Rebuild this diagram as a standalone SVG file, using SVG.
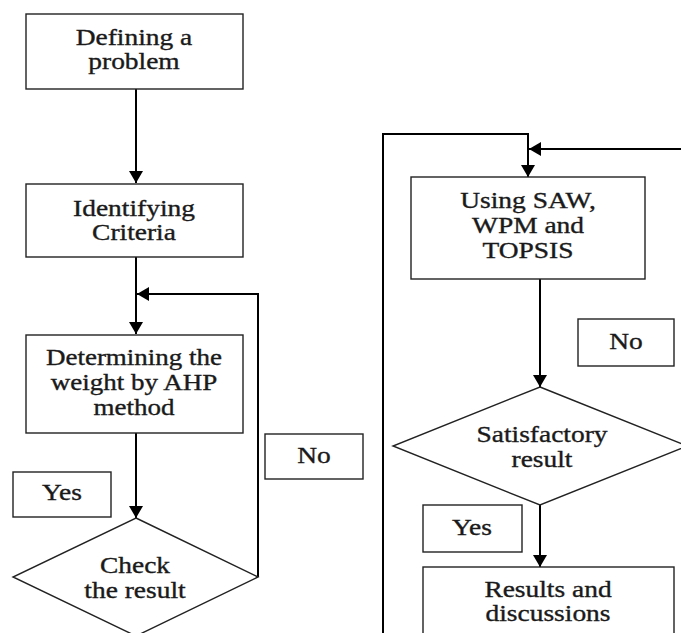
<svg xmlns="http://www.w3.org/2000/svg" width="681" height="633" viewBox="0 0 681 633">
<defs>
<marker id="ah" markerUnits="userSpaceOnUse" markerWidth="14" markerHeight="16" refX="12" refY="7" orient="auto">
<path d="M0,0 L12,7 L0,14 Z" fill="#000"/>
</marker>
<style>
.box{fill:#fff;stroke:#222;stroke-width:1.4}
.ln{fill:none;stroke:#000;stroke-width:2}
.t{font-family:"Liberation Serif","Times New Roman",serif;font-size:22.5px;fill:#1a1a1a;stroke:#1a1a1a;stroke-width:0.35;text-anchor:middle}
</style>
</defs>
<rect width="681" height="633" fill="#fff"/>
<g id="connectors">
<path class="ln" d="M136,89 V183" marker-end="url(#ah)"/>
<path class="ln" d="M136,257 V334" marker-end="url(#ah)"/>
<path class="ln" d="M258,577 V294 H137" marker-end="url(#ah)"/>
<path class="ln" d="M136,433 V518" marker-end="url(#ah)"/>
<path class="ln" d="M383,633 V134 H528 V177" marker-end="url(#ah)"/>
<path class="ln" d="M681,149 H529" marker-end="url(#ah)"/>
<path class="ln" d="M540,279 V387" marker-end="url(#ah)"/>
<path class="ln" d="M540,505 V567" marker-end="url(#ah)"/>
</g>
<g id="n1">
<rect class="box" x="26" y="14" width="217" height="75"/>
<text class="t" transform="translate(134,45) scale(1.22,1)">Defining a</text>
<text class="t" transform="translate(134,69) scale(1.22,1)">problem</text>
</g>
<g id="n2">
<rect class="box" x="26" y="184" width="217" height="73"/>
<text class="t" transform="translate(134,216) scale(1.22,1)">Identifying</text>
<text class="t" transform="translate(134,240) scale(1.22,1)">Criteria</text>
</g>
<g id="n3">
<rect class="box" x="26" y="335" width="217" height="98"/>
<text class="t" transform="translate(134,365) scale(1.2,1)">Determining the</text>
<text class="t" transform="translate(134,390) scale(1.2,1)">weight by AHP</text>
<text class="t" transform="translate(134,415) scale(1.2,1)">method</text>
</g>
<g id="yes1">
<rect class="box" x="13" y="472" width="98" height="45"/>
<text class="t" transform="translate(62,500) scale(1.22,1)">Yes</text>
</g>
<g id="no1">
<rect class="box" x="265" y="434" width="98" height="45"/>
<text class="t" transform="translate(314,463) scale(1.22,1)">No</text>
</g>
<g id="n4">
<path class="box" d="M136,518 L258,577 L136,636 L13,577 Z"/>
<text class="t" transform="translate(135,573) scale(1.22,1)">Check</text>
<text class="t" transform="translate(135,598) scale(1.22,1)">the result</text>
</g>
<g id="n5">
<rect class="box" x="411" y="177" width="234" height="102"/>
<text class="t" transform="translate(528,208) scale(1.22,1)">Using SAW,</text>
<text class="t" transform="translate(528,233) scale(1.22,1)">WPM and</text>
<text class="t" transform="translate(528,258) scale(1.22,1)">TOPSIS</text>
</g>
<g id="no2">
<rect class="box" x="578" y="319" width="96" height="47"/>
<text class="t" transform="translate(626,349) scale(1.22,1)">No</text>
</g>
<g id="n6">
<path class="box" d="M540,387 L687,446 L540,505 L393,446 Z"/>
<text class="t" transform="translate(542,442) scale(1.22,1)">Satisfactory</text>
<text class="t" transform="translate(542,467) scale(1.22,1)">result</text>
</g>
<g id="yes2">
<rect class="box" x="423" y="505" width="99" height="47"/>
<text class="t" transform="translate(472,535) scale(1.22,1)">Yes</text>
</g>
<g id="n7">
<rect class="box" x="423" y="567" width="251" height="80"/>
<text class="t" transform="translate(548,597) scale(1.22,1)">Results and</text>
<text class="t" transform="translate(548,621) scale(1.22,1)">discussions</text>
</g>
</svg>
